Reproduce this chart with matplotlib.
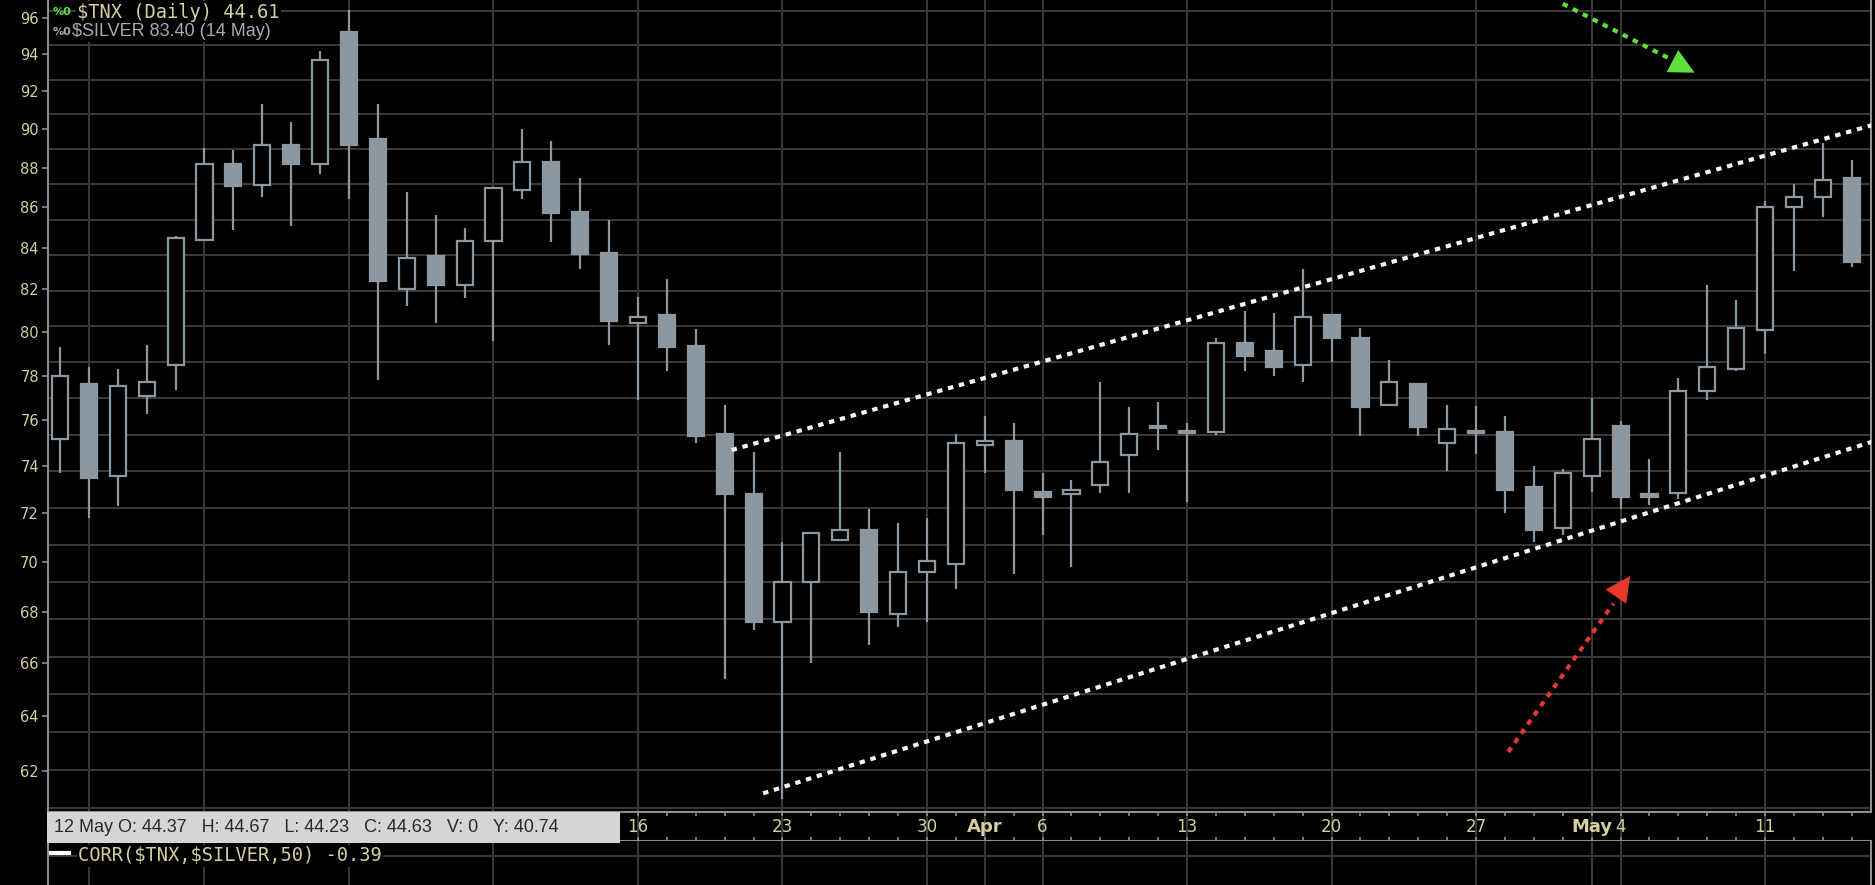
import matplotlib
matplotlib.use('Agg')
import matplotlib.pyplot as plt
import numpy as np
import pandas as pd
from matplotlib.transforms import blended_transform_factory
from matplotlib.patches import Rectangle
from matplotlib.ticker import FixedLocator, MultipleLocator, NullLocator, FuncFormatter

# --- data -------------------------------------------------------------
# trading days 13 Feb .. 14 May (16 Feb and 3 Apr closed)
days = pd.bdate_range('2026-02-13', '2026-05-14')
days = days[~days.isin(pd.to_datetime(['2026-02-16', '2026-04-03']))]

opens = [75.2, 77.6, 73.6, 77.1, 78.5, 84.4, 88.2, 87.15, 89.2, 88.2,
         95.2, 89.5, 82.0, 83.6, 82.2, 84.35, 86.9, 88.3, 85.75, 83.76,
         80.4, 80.8, 79.33, 75.4, 72.8, 67.6, 69.2, 70.9, 71.3, 67.9,
         69.6, 69.9, 74.9, 75.1, 72.9, 72.8, 73.2, 74.5, 75.65, 75.45,
         75.5, 79.5, 79.1, 78.5, 80.8, 79.7, 76.7, 77.6, 75.0, 75.45,
         75.5, 73.1, 71.4, 73.6, 75.75, 72.8, 72.85, 77.3, 78.3, 80.1,
         86.0, 86.5, 87.5]
highs = [79.3, 78.4, 78.3, 79.4, 84.6, 89.0, 88.9, 91.3, 90.4, 94.2,
         96.45, 91.3, 86.75, 85.6, 84.96, 87.0, 90.0, 89.4, 87.5, 85.4,
         81.66, 82.5, 80.15, 76.7, 74.6, 70.8, 71.2, 74.6, 72.2, 71.6,
         71.8, 75.4, 76.2, 75.9, 73.7, 73.4, 77.7, 76.6, 76.8, 75.9,
         79.7, 81.0, 80.9, 83.0, 80.8, 80.2, 78.7, 77.6, 76.7, 76.65,
         76.2, 74.0, 73.9, 77.0, 75.96, 74.3, 77.9, 82.2, 81.5, 86.3,
         87.2, 89.3, 88.4]
lows = [73.7, 71.8, 72.3, 76.3, 77.35, 84.4, 84.9, 86.5, 85.1, 87.7,
        86.4, 77.8, 81.2, 80.4, 81.6, 79.6, 86.4, 84.3, 82.96, 79.4,
        76.9, 78.2, 75.0, 65.4, 67.3, 61.0, 66.0, 70.9, 66.7, 67.4,
        67.6, 68.9, 73.7, 69.5, 71.1, 69.8, 72.85, 72.85, 74.7, 72.5,
        75.35, 78.2, 78.0, 77.7, 78.6, 75.3, 76.7, 75.3, 73.8, 74.55,
        72.0, 70.8, 71.1, 72.9, 72.2, 72.35, 72.6, 76.9, 78.2, 79.0,
        82.9, 85.5, 83.1]
closes = [78.0, 73.5, 77.55, 77.7, 84.5, 88.2, 87.1, 89.2, 88.2, 93.7,
          89.2, 82.4, 83.5, 82.2, 84.35, 87.0, 88.3, 85.7, 83.7, 80.5,
          80.7, 79.3, 75.3, 72.8, 67.6, 69.2, 71.2, 71.3, 68.0, 69.6,
          70.05, 75.0, 75.1, 73.0, 72.7, 73.0, 74.2, 75.4, 75.75, 75.55,
          79.5, 78.9, 78.4, 80.7, 79.7, 76.6, 77.7, 75.7, 75.6, 75.55,
          73.0, 71.3, 73.7, 75.2, 72.7, 72.7, 77.3, 78.4, 80.2, 86.0,
          86.5, 87.4, 83.3]

# channel lines drawn on the chart: (bar index, price)
upper_line = [(23.24, 74.7), (62.8, 90.25)]
lower_line = [(24.33, 61.2), (62.8, 75.1)]
# arrows: start, end of dotted shaft, tip of head
green_arrow = [(52.0, 96.8), (55.78, 93.69), (56.56, 93.0)]
red_arrow = [(50.11, 62.69), (53.75, 68.33), (54.33, 69.43)]

y_ticks = list(range(62, 97, 2))
tnx_range = (37.98, 42.462)   # right-hand $TNX scale, only its grid shows

info_text = '12 May O: 44.37   H: 44.67   L: 44.23   C: 44.63   V: 0   Y: 40.74'
corr_text = 'CORR($TNX,$SILVER,50) -0.39'

# --- style ------------------------------------------------------------
BG = 'black'
GRID = '#3a3a3a'
SPINE = '#8e8e8e'
KHAKI = '#d4cf9e'
CANDLE = '#8d979f'

W, H = 1875, 885
fig = plt.figure(figsize=(W / 100, H / 100), dpi=100, facecolor=BG)

def fx(px):
    return px / W

def fy(py):
    return 1 - py / H

ax2 = fig.add_axes([fx(48), fy(812), fx(1871 - 48), 812 / H])
ax = fig.add_axes([fx(48), fy(812), fx(1871 - 48), 812 / H])
band = fig.add_axes([fx(48), fy(841), fx(1871 - 48), 29 / H])
low = fig.add_axes([fx(48), 0, fx(1871 - 48), fy(841)])

x = np.arange(len(days))
xlim = ((48 - 60) / 28.9, (1871 - 60) / 28.9)
box_end = (620 - 60) / 28.9   # the quote box hides the labels left of here

# week / month labels
tick_pos, tick_lab, tick_bold = [], [], []
for i in range(1, len(days)):
    d, p = days[i], days[i - 1]
    if d.month != p.month:
        tick_pos.append(i); tick_lab.append(d.strftime('%b')); tick_bold.append(True)
    elif d.weekday() < p.weekday():
        tick_pos.append(i); tick_lab.append(str(d.day)); tick_bold.append(False)

# background scale grid (horizontal lines)
ax2.set_facecolor(BG)
ax2.set_yscale('log')
ax2.set_ylim(*tnx_range)
ax2.yaxis.set_major_locator(MultipleLocator(0.2))
ax2.yaxis.set_minor_locator(NullLocator())
ax2.set_xlim(*xlim)
ax2.set_xticks([])
ax2.tick_params(left=False, labelleft=False)
ax2.grid(axis='y', color=GRID, lw=1.4)
for s in ax2.spines.values():
    s.set_visible(False)

# main price panel
ax.patch.set_visible(False)
ax.set_yscale('log')
o, h, l, c = map(np.array, (opens, highs, lows, closes))
up = c >= o
ax.vlines(x, l, h, color=CANDLE, lw=1.6, zorder=3)
ax.bar(x[up], (c - o)[up], bottom=o[up], width=0.56, color='black',
       edgecolor=CANDLE, lw=1.6, zorder=4)
ax.bar(x[~up], (o - c)[~up], bottom=c[~up], width=0.56, color=CANDLE,
       edgecolor=CANDLE, lw=1.6, zorder=4)

dots = dict(lw=3.0, dashes=(1.3, 1.4), dash_capstyle='butt', zorder=5)
for line in (upper_line, lower_line):
    ax.plot([p[0] for p in line], [p[1] for p in line], color='#f4f4f4', **dots)
for arr, col in ((green_arrow, '#5ee03c'), (red_arrow, '#e8382b')):
    ax.plot([arr[0][0], arr[1][0]], [arr[0][1], arr[1][1]], color=col, **dots)
    ax.annotate('', xy=arr[2], xytext=arr[0],
                arrowprops=dict(arrowstyle='-|>,head_length=1.8,head_width=0.9',
                                mutation_scale=10, color=col, lw=0,
                                shrinkA=0, shrinkB=0), zorder=6)

ax.set_xlim(*xlim)
ax.set_ylim(62 * np.exp(-(812 - 771) / 1722), 96 * np.exp(18 / 1722))
ax.yaxis.set_major_locator(FixedLocator(y_ticks))
ax.yaxis.set_minor_locator(NullLocator())
ax.yaxis.set_major_formatter(FuncFormatter(lambda v, _: f'{v:.0f}'))
ax.tick_params(axis='y', colors=SPINE, labelcolor=KHAKI, length=4.5, width=1.2,
               pad=2, labelsize=10.5)
ax.set_xticks(tick_pos)
ax.tick_params(axis='x', length=0, labelbottom=False)
ax.grid(axis='x', color=GRID, lw=1.4)
ax.set_axisbelow(True)
for side in ('left', 'right', 'bottom'):
    ax.spines[side].set_color(SPINE)
    ax.spines[side].set_linewidth(1.5)
ax.spines['top'].set_visible(False)

# date band
band.set_facecolor(BG)
band.set_xlim(*xlim)
band.set_ylim(0, 1)
band.set_yticks([])
band.set_xticks(tick_pos)
band.set_xticks(x, minor=True)
band.tick_params(axis='x', which='both', direction='in', top=True, bottom=True,
                 length=3, width=1.2, color=SPINE, labelbottom=False)
band.grid(axis='x', color=GRID, lw=1.4)
for side in ('left', 'right'):
    band.spines[side].set_visible(False)
for side in ('top', 'bottom'):
    band.spines[side].set_color(SPINE)
    band.spines[side].set_linewidth(1.5)
tb = blended_transform_factory(band.transData, band.transAxes)
for pos, lab, bold in zip(tick_pos, tick_lab, tick_bold):
    if pos < box_end:
        continue
    band.text(pos, 0.47, lab, transform=tb, ha='center', va='center',
              color=KHAKI, fontsize=13 if bold else 12,
              fontweight='bold' if bold else 'normal')

# lower indicator panel
low.set_facecolor(BG)
low.set_xlim(*xlim)
low.set_ylim(0, 1)
low.set_xticks(tick_pos)
low.set_yticks([0.66])
low.tick_params(length=0, labelbottom=False, labelleft=False)
low.grid(color=GRID, lw=1.4)
for side in ('left', 'right'):
    low.spines[side].set_color(SPINE)
    low.spines[side].set_linewidth(1.5)
for side in ('top', 'bottom'):
    low.spines[side].set_visible(False)

# texts
black_box = dict(facecolor=BG, edgecolor='none', pad=1)
fig.text(fx(53), fy(12), '%0', color='#5ee03c', fontsize=8, fontweight='bold',
         va='center', ha='left')
fig.text(fx(77), fy(12), '$TNX (Daily) 44.61', color=KHAKI, family='DejaVu Sans Mono',
         fontsize=13.5, va='center', ha='left', bbox=black_box, parse_math=False)
fig.text(fx(53), fy(32), '%0', color='#a3abb3', fontsize=8, fontweight='bold',
         va='center', ha='left')
fig.text(fx(72), fy(32), '$SILVER 83.40 (14 May)', color='#a3abb3',
         family='Liberation Sans', fontsize=13, va='center', ha='left',
         bbox=black_box, parse_math=False)

fig.patches.append(Rectangle((fx(47), fy(843)), fx(620 - 47), 31 / H,
                             transform=fig.transFigure, facecolor='#d5d5d5',
                             edgecolor='none', zorder=2))
fig.text(fx(54), fy(828), info_text, color='#2a2a2a', family='Liberation Sans',
         fontsize=13, va='center', ha='left', zorder=3)

fig.lines.append(plt.Line2D([fx(51), fx(69)], [fy(853), fy(853)], color='white',
                            lw=3, transform=fig.transFigure))
fig.text(fx(78), fy(856), corr_text, color=KHAKI, family='DejaVu Sans Mono',
         fontsize=13.5, va='center', ha='left', bbox=black_box, parse_math=False)

fig.savefig('out.png', dpi=100, facecolor=BG)
